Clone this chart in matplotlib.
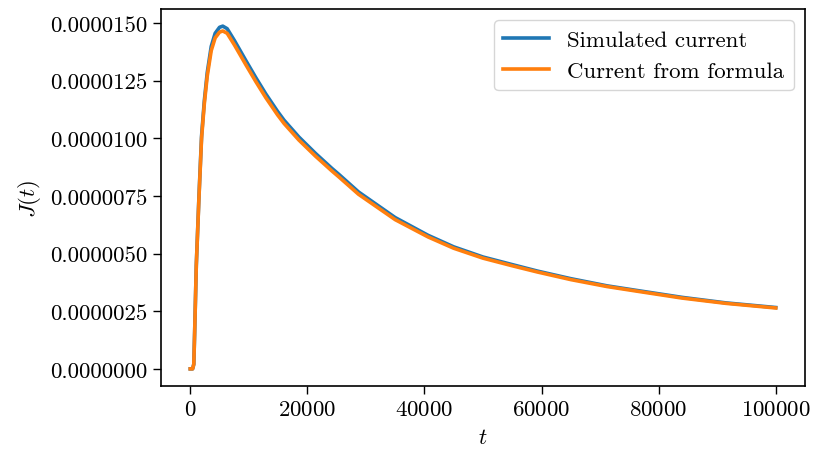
import matplotlib
matplotlib.use("Agg")
import matplotlib.pyplot as plt
from matplotlib.ticker import FormatStrFormatter
import numpy as np

plt.rcParams["font.family"] = "serif"
plt.rcParams["font.serif"] = ["cmr10"]
plt.rcParams["mathtext.fontset"] = "cm"
plt.rcParams["axes.formatter.use_mathtext"] = True
plt.rcParams["axes.unicode_minus"] = False

# time samples
t = [0, 400, 600, 750, 1030, 1480, 1930, 2400, 2900, 3580, 4250, 5000, 5550,
     6300, 7530, 9510, 11210, 12900, 14890, 16020, 18560, 21400, 24200, 25350,
     28740, 35000, 40620, 45000, 50000, 55000, 59290, 65000, 71170, 76260,
     84000, 91500, 100000]

# current, in units of 1e-6
j_simulated = [0, 0, 0.2, 1.6, 4.5, 7.45, 10.1, 11.62, 12.85, 13.98, 14.55,
               14.81, 14.86, 14.75, 14.24, 13.36, 12.62, 11.92, 11.17, 10.78,
               10.05, 9.34, 8.69, 8.44, 7.67, 6.56, 5.79, 5.29, 4.85, 4.52,
               4.24, 3.91, 3.6, 3.4, 3.1, 2.86, 2.66]
j_formula = [0, 0, 0.2, 1.6, 4.5, 7.4, 10.0, 11.5, 12.7, 13.8, 14.35, 14.6,
             14.65, 14.55, 14.05, 13.18, 12.45, 11.76, 11.02, 10.64, 9.92, 9.22,
             8.58, 8.33, 7.57, 6.47, 5.72, 5.23, 4.8, 4.47, 4.2, 3.87, 3.57,
             3.37, 3.07, 2.84, 2.64]

fs = 16.5
fig, ax = plt.subplots(figsize=(8.13, 4.56), dpi=100)
fig.subplots_adjust(left=161 / 813, right=805 / 813, top=1 - 10 / 456, bottom=1 - 387 / 456)

ax.plot(t, np.array(j_simulated) * 1e-6, color="#1f77b4", lw=2.6, label="Simulated current")
ax.plot(t, np.array(j_formula) * 1e-6, color="#ff7f0e", lw=2.6, label="Current from formula")

ax.set_xticks([0, 20000, 40000, 60000, 80000, 100000])
ax.set_yticks(np.arange(0, 15.1, 2.5) * 1e-6)
ax.yaxis.set_major_formatter(FormatStrFormatter("%.7f"))
ax.tick_params(labelsize=fs, length=6, width=1.0)
for s in ax.spines.values():
    s.set_linewidth(1.2)

ax.set_xlabel("$t$", fontsize=fs, labelpad=6)
ax.set_ylabel("$J(t)$", fontsize=fs, labelpad=5)

leg = ax.legend(loc="upper right", fontsize=fs, handlelength=2.0)

fig.savefig("out.png", dpi=100)
